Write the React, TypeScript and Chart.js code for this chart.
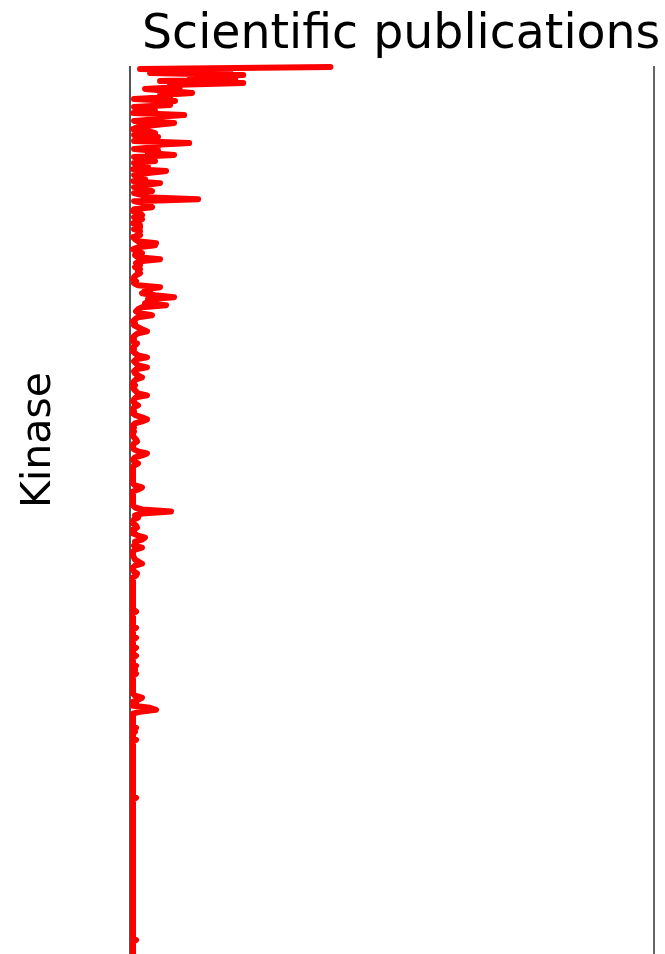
import React, { useEffect, useRef } from "react";
import { Chart, registerables } from "chart.js";

Chart.register(...registerables);

const TITLE = "Scientific publications";
const Y_TITLE = "Kinase";

// publication counts per kinase (ordered as in the figure, top to bottom)
const publications: number[] = [
  200, 10, 100, 20, 113, 60, 105, 30, 113, 40, 50, 15, 40, 62, 30, 40, 4, 45, 25, 40,
  4, 12, 25, 3, 54, 25, 30, 4, 44, 25, 8, 3, 18, 25, 4, 28, 18, 4, 59, 22,
  28, 4, 28, 18, 44, 4, 14, 25, 4, 12, 18, 3, 36, 18, 4, 12, 15, 3, 30, 15,
  4, 18, 22, 4, 12, 15, 68, 4, 12, 20, 22, 4, 3, 10, 12, 4, 12, 8, 3, 10,
  10, 4, 10, 8, 10, 3, 5, 8, 26, 25, 8, 3, 6, 12, 5, 8, 30, 10, 6, 10,
  5, 10, 8, 10, 6, 4, 3, 6, 4, 8, 30, 15, 20, 12, 25, 44, 18, 20, 15, 36,
  12, 8, 6, 10, 22, 8, 5, 3, 5, 4, 8, 12, 17, 8, 5, 3, 4, 3, 7, 5,
  3, 4, 3, 5, 8, 17, 6, 4, 6, 8, 17, 6, 4, 5, 8, 12, 6, 4, 3, 5,
  3, 4, 6, 8, 17, 6, 4, 3, 5, 8, 4, 3, 4, 3, 6, 12, 17, 12, 5, 3,
  4, 3, 4, 3, 3, 4, 6, 7, 4, 3, 3, 4, 8, 17, 12, 5, 3, 4, 8, 4,
  3, 3, 3, 3, 3, 3, 3, 3, 3, 5, 12, 8, 3, 3, 3, 3, 3, 3, 3, 3,
  5, 12, 41, 12, 5, 8, 4, 3, 3, 6, 7, 3, 4, 3, 8, 15, 12, 5, 6, 4,
  12, 5, 3, 3, 3, 4, 5, 8, 12, 5, 3, 3, 4, 7, 6, 3, 3, 3, 3, 3,
  3, 3, 3, 3, 3, 3, 3, 3, 3, 3, 3, 3, 6, 3, 3, 3, 3, 3, 3, 3,
  6, 3, 3, 3, 3, 6, 3, 3, 3, 3, 6, 3, 3, 3, 6, 3, 3, 3, 3, 6,
  3, 5, 3, 6, 3, 3, 3, 3, 3, 3, 3, 3, 3, 3, 5, 12, 8, 3, 6, 3,
  20, 26, 10, 3, 3, 3, 3, 3, 3, 3, 6, 3, 5, 3, 3, 3, 6, 3, 3, 3,
  3, 3, 3, 3, 3, 3, 3, 3, 3, 3, 3, 3, 3, 3, 3, 3, 3, 3, 3, 3,
  3, 3, 3, 3, 3, 6, 3, 3, 3, 3, 3, 3, 3, 3, 3, 3, 3, 3, 3, 3,
  3, 3, 3, 3, 3, 3, 3, 3, 3, 3, 3, 3, 3, 3, 3, 3, 3, 3, 3, 3,
  3, 3, 3, 3, 3, 3, 3, 3, 3, 3, 3, 3, 3, 3, 3, 3, 3, 3, 3, 3,
  3, 3, 3, 3, 3, 3, 3, 3, 3, 3, 3, 3, 3, 3, 3, 3, 6, 3, 3, 3,
  3, 3, 3, 3,
];

const kinases: string[] = publications.map((_, i) => `Kinase ${i + 1}`);

const X_MAX = 523;

export default function App() {
  const ref = useRef<HTMLCanvasElement | null>(null);

  useEffect(() => {
    if (!ref.current) return;
    const textPlugin = {
      id: "texts",
      afterDraw(chart: any) {
        const ctx = chart.ctx;
        ctx.save();
        ctx.fillStyle = "#000";
        ctx.font = "47.4px 'DejaVu Sans'";
        ctx.textAlign = "left";
        ctx.textBaseline = "alphabetic";
        ctx.fillText(TITLE, 142, 48);
        ctx.translate(50, 440);
        ctx.rotate(-Math.PI / 2);
        ctx.font = "41px 'DejaVu Sans'";
        ctx.textAlign = "center";
        ctx.fillText(Y_TITLE, 0, 0);
        ctx.restore();
      },
    };
    const chart = new Chart(ref.current, {
      type: "line",
      data: {
        labels: kinases,
        datasets: [
          {
            data: publications,
            borderColor: "#ff0000",
            backgroundColor: "#ff0000",
            borderWidth: 6,
            pointRadius: 0,
            tension: 0,
            borderJoinStyle: "round",
            borderCapStyle: "round",
          },
        ],
      },
      options: {
        indexAxis: "y",
        responsive: false,
        animation: false,
        events: [],
        layout: { padding: { left: 130, right: 11, top: 67, bottom: 0 } },
        plugins: {
          legend: { display: false },
          title: { display: false },
          tooltip: { enabled: false },
        },
        scales: {
          x: { type: "linear", min: 0, max: X_MAX, display: false },
          y: {
            type: "category",
            position: "left",
            ticks: { display: false },
            grid: { display: false, drawTicks: false },
            border: { display: true, color: "#555", width: 2 },
          },
          y2: {
            type: "linear",
            position: "right",
            min: 0,
            max: 1,
            ticks: { display: false },
            grid: { display: false, drawTicks: false },
            border: { display: true, color: "#666", width: 2 },
          },
        },
      },
      plugins: [textPlugin],
    } as any);
    return () => chart.destroy();
  }, []);

  return (
    <div style={{ position: "absolute", left: 0, top: 0, width: 665, height: 954, background: "#fff" }}>
      <canvas ref={ref} width={665} height={954} />
    </div>
  );
}
